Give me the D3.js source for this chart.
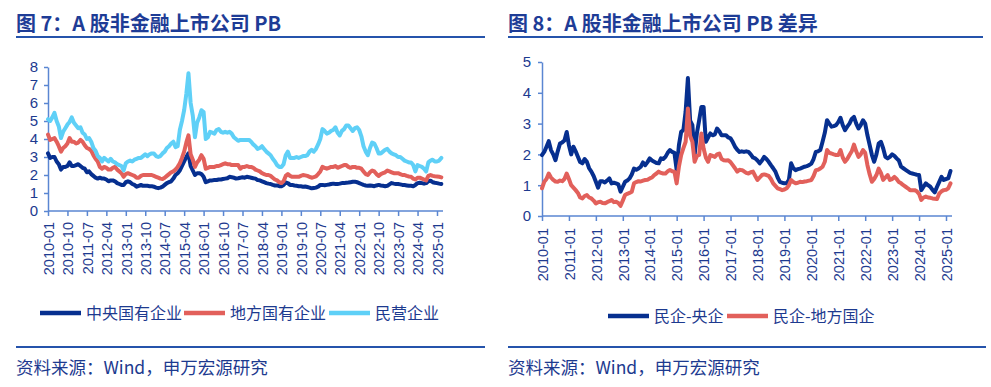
<!DOCTYPE html>
<html>
<head>
<meta charset="utf-8">
<script src="https://cdn.jsdelivr.net/npm/d3@7"></script>
<style>
body { margin: 0; background: #fff; }
svg { display: block; }
</style>
</head>
<body>
<svg id="chart" width="991" height="387"></svg>
<script>
// monthly categories 2010-01 .. 2025-03
var months = d3.timeMonth.range(new Date(2010, 0, 1), new Date(2025, 3, 1)).map(d3.timeFormat("%Y-%m"));

var leftTicks = ["2010-01", "2010-10", "2011-07", "2012-04", "2013-01", "2013-10", "2014-07", "2015-04",
    "2016-01", "2016-10", "2017-07", "2018-04", "2019-01", "2019-10", "2020-07", "2021-04",
    "2022-01", "2022-10", "2023-07", "2024-04", "2025-01"];
var rightTicks = ["2010-01", "2011-01", "2012-01", "2013-01", "2014-01", "2015-01", "2016-01", "2017-01",
    "2018-01", "2019-01", "2020-01", "2021-01", "2022-01", "2023-01", "2024-01", "2025-01"];

// 图7: PB
var central = [
    3.2, 2.95, 3.0, 3.0, 2.75, 2.6, 2.3, 2.45, 2.45, 2.5, 2.7, 2.5,
    2.5, 2.55, 2.6, 2.5, 2.4, 2.35, 2.15, 2.2, 2.05, 1.95, 1.85, 1.8,
    1.85, 1.8, 1.8, 1.75, 1.65, 1.7, 1.7, 1.65, 1.55, 1.5, 1.45, 1.45,
    1.6, 1.65, 1.6, 1.5, 1.45, 1.35, 1.4, 1.45, 1.4, 1.4, 1.4, 1.38,
    1.38, 1.35, 1.3, 1.27, 1.3, 1.35, 1.45, 1.55, 1.6, 1.65, 1.8, 2.0,
    2.1, 2.25, 2.5, 2.75, 3.0, 3.2, 2.5, 2.25, 2.0, 2.1, 2.1, 2.05,
    1.9, 1.6, 1.65, 1.7, 1.7, 1.72, 1.72, 1.75, 1.75, 1.78, 1.8, 1.82,
    1.9, 1.88, 1.85, 1.8, 1.82, 1.85, 1.87, 1.85, 1.9, 1.88, 1.85, 1.82,
    1.8, 1.72, 1.7, 1.65, 1.6, 1.55, 1.52, 1.5, 1.45, 1.42, 1.42, 1.38,
    1.38, 1.45, 1.58, 1.55, 1.45, 1.45, 1.42, 1.4, 1.38, 1.37, 1.35, 1.36,
    1.33, 1.3, 1.26, 1.28, 1.3, 1.35, 1.45, 1.45, 1.43, 1.45, 1.47, 1.5,
    1.52, 1.5, 1.5, 1.52, 1.55, 1.55, 1.57, 1.58, 1.6, 1.62, 1.63, 1.6,
    1.55, 1.5, 1.45, 1.42, 1.4, 1.42, 1.4, 1.38, 1.42, 1.45, 1.42, 1.4,
    1.38, 1.4, 1.48, 1.55, 1.52, 1.5, 1.5, 1.48, 1.45, 1.44, 1.42, 1.4,
    1.4, 1.38, 1.45, 1.55, 1.57, 1.55, 1.52, 1.55, 1.65, 1.68, 1.6, 1.57,
    1.55, 1.52, 1.5
];
var local = [
    4.25, 3.95, 4.0, 4.05, 3.85, 3.6, 3.3, 3.5, 3.6, 3.75, 4.05, 3.85,
    3.85, 3.75, 3.8, 3.95, 3.85, 3.65, 3.5, 3.45, 3.35, 3.1, 2.9, 2.75,
    2.45, 2.35, 2.45, 2.4, 2.3, 2.3, 2.4, 2.45, 2.3, 2.2, 2.1, 1.9,
    2.05, 2.1, 2.05, 2.0, 1.95, 1.85, 1.85, 1.95, 2.0, 2.0, 2.0, 2.0,
    2.0, 1.95, 1.9, 1.85, 1.8, 1.78, 1.85, 1.95, 2.05, 2.15, 2.2, 2.3,
    2.45, 2.65, 2.95, 3.3, 3.8, 4.2, 3.15, 2.85, 2.45, 2.7, 2.85, 3.1,
    2.9, 2.35, 2.4, 2.45, 2.45, 2.45, 2.5, 2.5, 2.55, 2.6, 2.65, 2.6,
    2.6, 2.55, 2.55, 2.55, 2.55, 2.35, 2.45, 2.45, 2.5, 2.45, 2.45, 2.4,
    2.3, 2.25, 2.2, 2.1, 2.05, 2.0, 2.0, 1.95, 1.85, 1.75, 1.7, 1.6,
    1.55, 1.65, 1.95, 2.05, 1.95, 1.9, 1.9, 1.9, 1.9, 1.95, 2.0, 1.98,
    1.95, 1.9, 1.85, 1.88, 1.92, 2.05, 2.2, 2.45, 2.4, 2.35, 2.4, 2.45,
    2.45, 2.5, 2.4, 2.45, 2.5, 2.55, 2.55, 2.45, 2.4, 2.45, 2.45, 2.4,
    2.4, 2.35, 2.2, 2.05, 2.0, 2.15, 2.25, 2.2, 2.05, 1.95, 2.05, 2.1,
    2.15, 2.25, 2.2, 2.15, 2.1, 2.1, 2.1, 2.05, 2.0, 2.0, 1.95, 1.92,
    1.9, 1.8, 1.75, 1.85, 1.85, 1.8, 1.75, 1.7, 1.95, 2.0, 1.95, 1.93,
    1.92, 1.9, 1.87
];
var privateCo = [
    5.1, 5.0, 5.2, 5.45, 5.0, 4.7, 4.05, 4.4, 4.6, 4.8, 4.95, 5.2,
    4.9, 4.75, 4.6, 4.65, 4.35, 4.25, 4.0, 4.05, 3.85, 3.5, 3.35, 3.05,
    2.95, 2.75, 2.95, 2.85, 2.75, 2.9, 2.75, 2.7, 2.6, 2.55, 2.5, 2.25,
    2.65, 2.75, 2.8, 2.75, 2.85, 2.9, 2.95, 2.95, 3.05, 3.15, 3.05, 3.15,
    3.2, 3.2, 3.05, 3.0, 3.05, 3.2, 3.3, 3.5, 3.6, 3.75, 3.85, 3.55,
    3.6, 4.5, 5.0, 5.6, 6.5, 7.65, 6.0, 5.3, 4.1, 4.9, 5.2, 5.6,
    5.5, 4.0, 4.1, 4.4, 4.35, 4.3, 4.5, 4.55, 4.4, 4.35, 4.4, 4.35,
    4.4, 4.3, 4.1, 4.0, 3.9, 3.95, 3.95, 3.95, 3.95, 3.95, 3.85, 3.7,
    3.6, 3.45, 3.5, 3.6, 3.45, 3.3, 3.2, 3.1, 2.9, 2.75, 2.55, 2.45,
    2.45, 2.6, 3.1, 3.3, 2.95, 2.95, 2.95, 3.0, 2.95, 3.0, 3.05, 3.05,
    3.1, 3.3, 3.4, 3.3, 3.45, 3.7, 4.0, 4.55, 4.45, 4.3, 4.35, 4.45,
    4.5, 4.65, 4.35, 4.2, 4.45, 4.55, 4.75, 4.75, 4.6, 4.45, 4.6, 4.65,
    4.5, 4.15, 3.6, 3.3, 3.1, 3.5, 3.8, 3.75, 3.5, 3.2, 3.2, 3.3,
    3.4, 3.45, 3.3, 3.2, 3.15, 3.1, 3.0, 3.0, 2.9, 2.8, 2.75, 2.7,
    2.7, 2.55, 2.2, 2.55, 2.5, 2.45, 2.35, 2.2, 2.7, 2.8, 2.85, 2.75,
    2.75, 2.8, 2.95
];

// 图8: PB 差异
var diffCentral = [
    1.98, 2.08, 2.25, 2.43, 2.14, 2.0, 1.81, 2.1, 2.35, 2.39, 2.45, 2.73,
    2.3, 2.0, 2.25, 2.1, 1.92, 1.75, 1.71, 1.85, 1.76, 1.55, 1.44, 1.3,
    1.11, 0.92, 1.13, 1.13, 1.09, 1.15, 1.22, 1.06, 1.08, 1.06, 1.03, 0.79,
    0.95, 1.11, 1.15, 1.22, 1.35, 1.54, 1.5, 1.54, 1.6, 1.74, 1.65, 1.75,
    1.87, 1.8, 1.76, 1.72, 1.71, 1.87, 1.85, 1.92, 2.05, 2.14, 2.08, 2.05,
    1.49, 2.3, 2.73, 2.79, 3.4, 4.48, 3.1, 2.95, 1.98, 2.68, 3.1, 3.54,
    3.54, 2.41, 2.55, 2.68, 2.62, 2.65, 2.84, 2.75, 2.62, 2.62, 2.62, 2.55,
    2.52, 2.4, 2.25, 2.15, 2.08, 2.1, 2.08, 2.1, 2.08, 2.0, 1.9, 1.87,
    1.8, 1.71, 1.8, 1.92, 1.85, 1.76, 1.65, 1.55, 1.44, 1.25, 1.11, 1.08,
    1.06, 1.06, 1.17, 1.71, 1.55, 1.49, 1.52, 1.54, 1.57, 1.6, 1.62, 1.65,
    1.7, 1.85, 2.08, 2.1, 2.14, 2.41, 2.7, 3.11, 3.0, 2.9, 2.92, 2.95,
    3.05, 3.19, 2.95, 2.79, 2.9, 3.0, 3.15, 3.22, 3.0, 2.84, 2.95, 3.11,
    3.0, 2.62, 2.3, 1.98, 1.76, 2.0, 2.35, 2.41, 2.2, 1.92, 1.87, 1.92,
    2.0, 1.95, 1.87, 1.8, 1.6, 1.55, 1.5, 1.45, 1.4, 1.38, 1.36, 1.34,
    1.33, 0.84, 0.95, 1.06, 1.0, 0.95, 0.85, 0.77, 0.95, 1.11, 1.27, 1.17,
    1.2, 1.22, 1.46
];
var diffLocal = [
    0.9, 1.11, 1.2, 1.38, 1.25, 1.17, 1.12, 1.11, 1.15, 1.13, 1.2, 1.38,
    1.2, 1.0, 0.92, 0.84, 0.75, 0.6, 0.57, 0.65, 0.68, 0.6, 0.57, 0.5,
    0.41, 0.45, 0.46, 0.42, 0.41, 0.45, 0.48, 0.52, 0.45, 0.46, 0.42, 0.33,
    0.5, 0.68, 0.72, 0.75, 0.79, 1.06, 1.1, 1.13, 1.12, 1.15, 1.17, 1.18,
    1.22, 1.25, 1.33, 1.38, 1.44, 1.4, 1.38, 1.38, 1.45, 1.49, 1.45, 1.44,
    1.06, 1.6, 1.98, 2.2, 2.41, 3.49, 2.6, 2.41, 1.76, 1.95, 1.98, 2.68,
    2.19, 1.9, 1.76, 1.98, 1.95, 1.92, 2.0, 2.03, 1.85, 1.81, 1.8, 1.81,
    1.75, 1.65, 1.55, 1.44, 1.5, 1.49, 1.45, 1.4, 1.38, 1.42, 1.44, 1.3,
    1.17, 1.25, 1.33, 1.35, 1.33, 1.3, 1.2, 1.06, 0.98, 0.9, 0.87, 0.84,
    0.86, 0.9, 1.0, 1.17, 1.1, 1.06, 1.08, 1.11, 1.1, 1.12, 1.13, 1.15,
    1.17, 1.3, 1.49, 1.5, 1.54, 1.6, 1.76, 2.14, 2.05, 2.03, 2.0, 1.98,
    1.98, 2.14, 1.9, 1.76, 1.85, 1.98, 2.1, 2.32, 2.1, 1.92, 2.0, 2.14,
    2.05, 1.65, 1.35, 1.11, 1.2, 1.33, 1.54, 1.4, 1.17, 1.25, 1.33, 1.17,
    1.2, 1.27, 1.2, 1.1, 1.06, 1.0, 0.95, 0.9, 0.84, 0.84, 0.84, 0.8,
    0.72, 0.52, 0.6, 0.63, 0.6, 0.59, 0.57, 0.56, 0.55, 0.73, 0.8, 0.84,
    0.85, 0.9, 1.06
];

var leftNames = ["中央国有企业", "地方国有企业", "民营企业"];
var rightNames = ["民企-央企", "民企-地方国企"];
var navy = "#062f8f", red = "#e2605b", sky = "#5fd0f7";
var textColor = "#1d3a8f", axisColor = "#5a86d2", ruleColor = "#2553ab";
var cjk = "'Noto Sans CJK SC', 'Noto Sans', sans-serif";
var num = "'Liberation Sans', Arial, sans-serif";

var svg = d3.select("#chart");
svg.append("rect").attr("width", 991).attr("height", 387).attr("fill", "#fff");

function panel(opt) {
    var g = svg.append("g");

    g.append("text").attr("x", opt.left).attr("y", 31)
        .style("font-family", cjk).style("font-size", "20px").style("font-weight", "bold")
        .attr("fill", "#1e3c96").text(opt.title);
    g.append("line").attr("x1", opt.left).attr("x2", opt.right).attr("y1", 37).attr("y2", 37)
        .attr("stroke", ruleColor).attr("stroke-width", 2);

    var x = d3.scalePoint().domain(months).range([opt.x0, opt.x0 + (months.length - 1) * opt.step]);
    var y = d3.scaleLinear().domain([0, opt.ymax]).range([opt.y0, opt.ytop]);

    var xa = g.append("g").attr("transform", "translate(0," + opt.y0 + ")")
        .call(d3.axisBottom(x).tickValues(opt.ticks).tickSize(5).tickSizeOuter(0));
    xa.select(".domain").attr("d", "M" + opt.x0 + ",0H" + opt.xend);
    xa.selectAll("text")
        .attr("transform", "rotate(-90)").attr("x", -opt.labelGap).attr("y", 0).attr("dy", "0.36em")
        .style("text-anchor", "end");

    var ya = g.append("g").attr("transform", "translate(" + opt.x0 + ",0)")
        .call(d3.axisLeft(y).tickValues(d3.range(0, opt.ymax + 1)).tickFormat(d3.format("d"))
            .tickSize(4).tickPadding(opt.ypad).tickSizeOuter(0));
    ya.selectAll("text").style("font-size", "15px");

    g.selectAll(".domain, .tick line").attr("stroke", axisColor).attr("stroke-width", 1.5);
    g.selectAll(".tick text").attr("fill", textColor).style("font-family", num);
    xa.selectAll("text").style("font-size", "14.5px");

    var line = d3.line().x(function (d, i) { return x(months[i]); }).y(function (d) { return y(d); });
    opt.series.forEach(function (s) {
        g.append("path").datum(s.values)
            .attr("fill", "none").attr("stroke", s.color).attr("stroke-width", 4)
            .attr("stroke-linejoin", "round").attr("stroke-linecap", "round")
            .attr("d", line);
    });

    // legend
    opt.legend.forEach(function (l, i) {
        g.append("line").attr("x1", l.x).attr("x2", l.x + 41).attr("y1", opt.legendY).attr("y2", opt.legendY)
            .attr("stroke", opt.series[i].color).attr("stroke-width", 4.5);
        g.append("text").attr("x", l.x + 46).attr("y", opt.legendY).attr("dy", "0.35em")
            .style("font-family", cjk).style("font-size", "16px").attr("fill", textColor)
            .text(l.name);
    });

    g.append("line").attr("x1", opt.left).attr("x2", opt.right + opt.extra).attr("y1", 347).attr("y2", 347)
        .attr("stroke", ruleColor).attr("stroke-width", 2);
    g.append("text").attr("x", opt.left).attr("y", 374)
        .style("font-family", cjk).style("font-size", "17.5px").attr("fill", textColor)
        .text("资料来源：Wind，申万宏源研究");
}

panel({
    title: "图 7：A 股非金融上市公司 PB", left: 16, right: 485, extra: 0,
    x0: 48, step: 389 / 180, xend: 443, y0: 211, ytop: 67, ymax: 8, ypad: 6,
    ticks: leftTicks, labelGap: 11,
    series: [
        { values: central, color: navy },
        { values: local, color: red },
        { values: privateCo, color: sky }
    ],
    legendY: 313,
    legend: [{ x: 40, name: leftNames[0] }, { x: 184, name: leftNames[1] }, { x: 329, name: leftNames[2] }]
});

panel({
    title: "图 8：A 股非金融上市公司 PB 差异", left: 508, right: 983, extra: 3,
    x0: 542, step: 404 / 180, xend: 952, y0: 216, ytop: 62, ymax: 5, ypad: 7,
    ticks: rightTicks, labelGap: 12,
    series: [
        { values: diffCentral, color: navy },
        { values: diffLocal, color: red }
    ],
    legendY: 316,
    legend: [{ x: 608, name: rightNames[0] }, { x: 727, name: rightNames[1] }]
});
</script>
</body>
</html>
